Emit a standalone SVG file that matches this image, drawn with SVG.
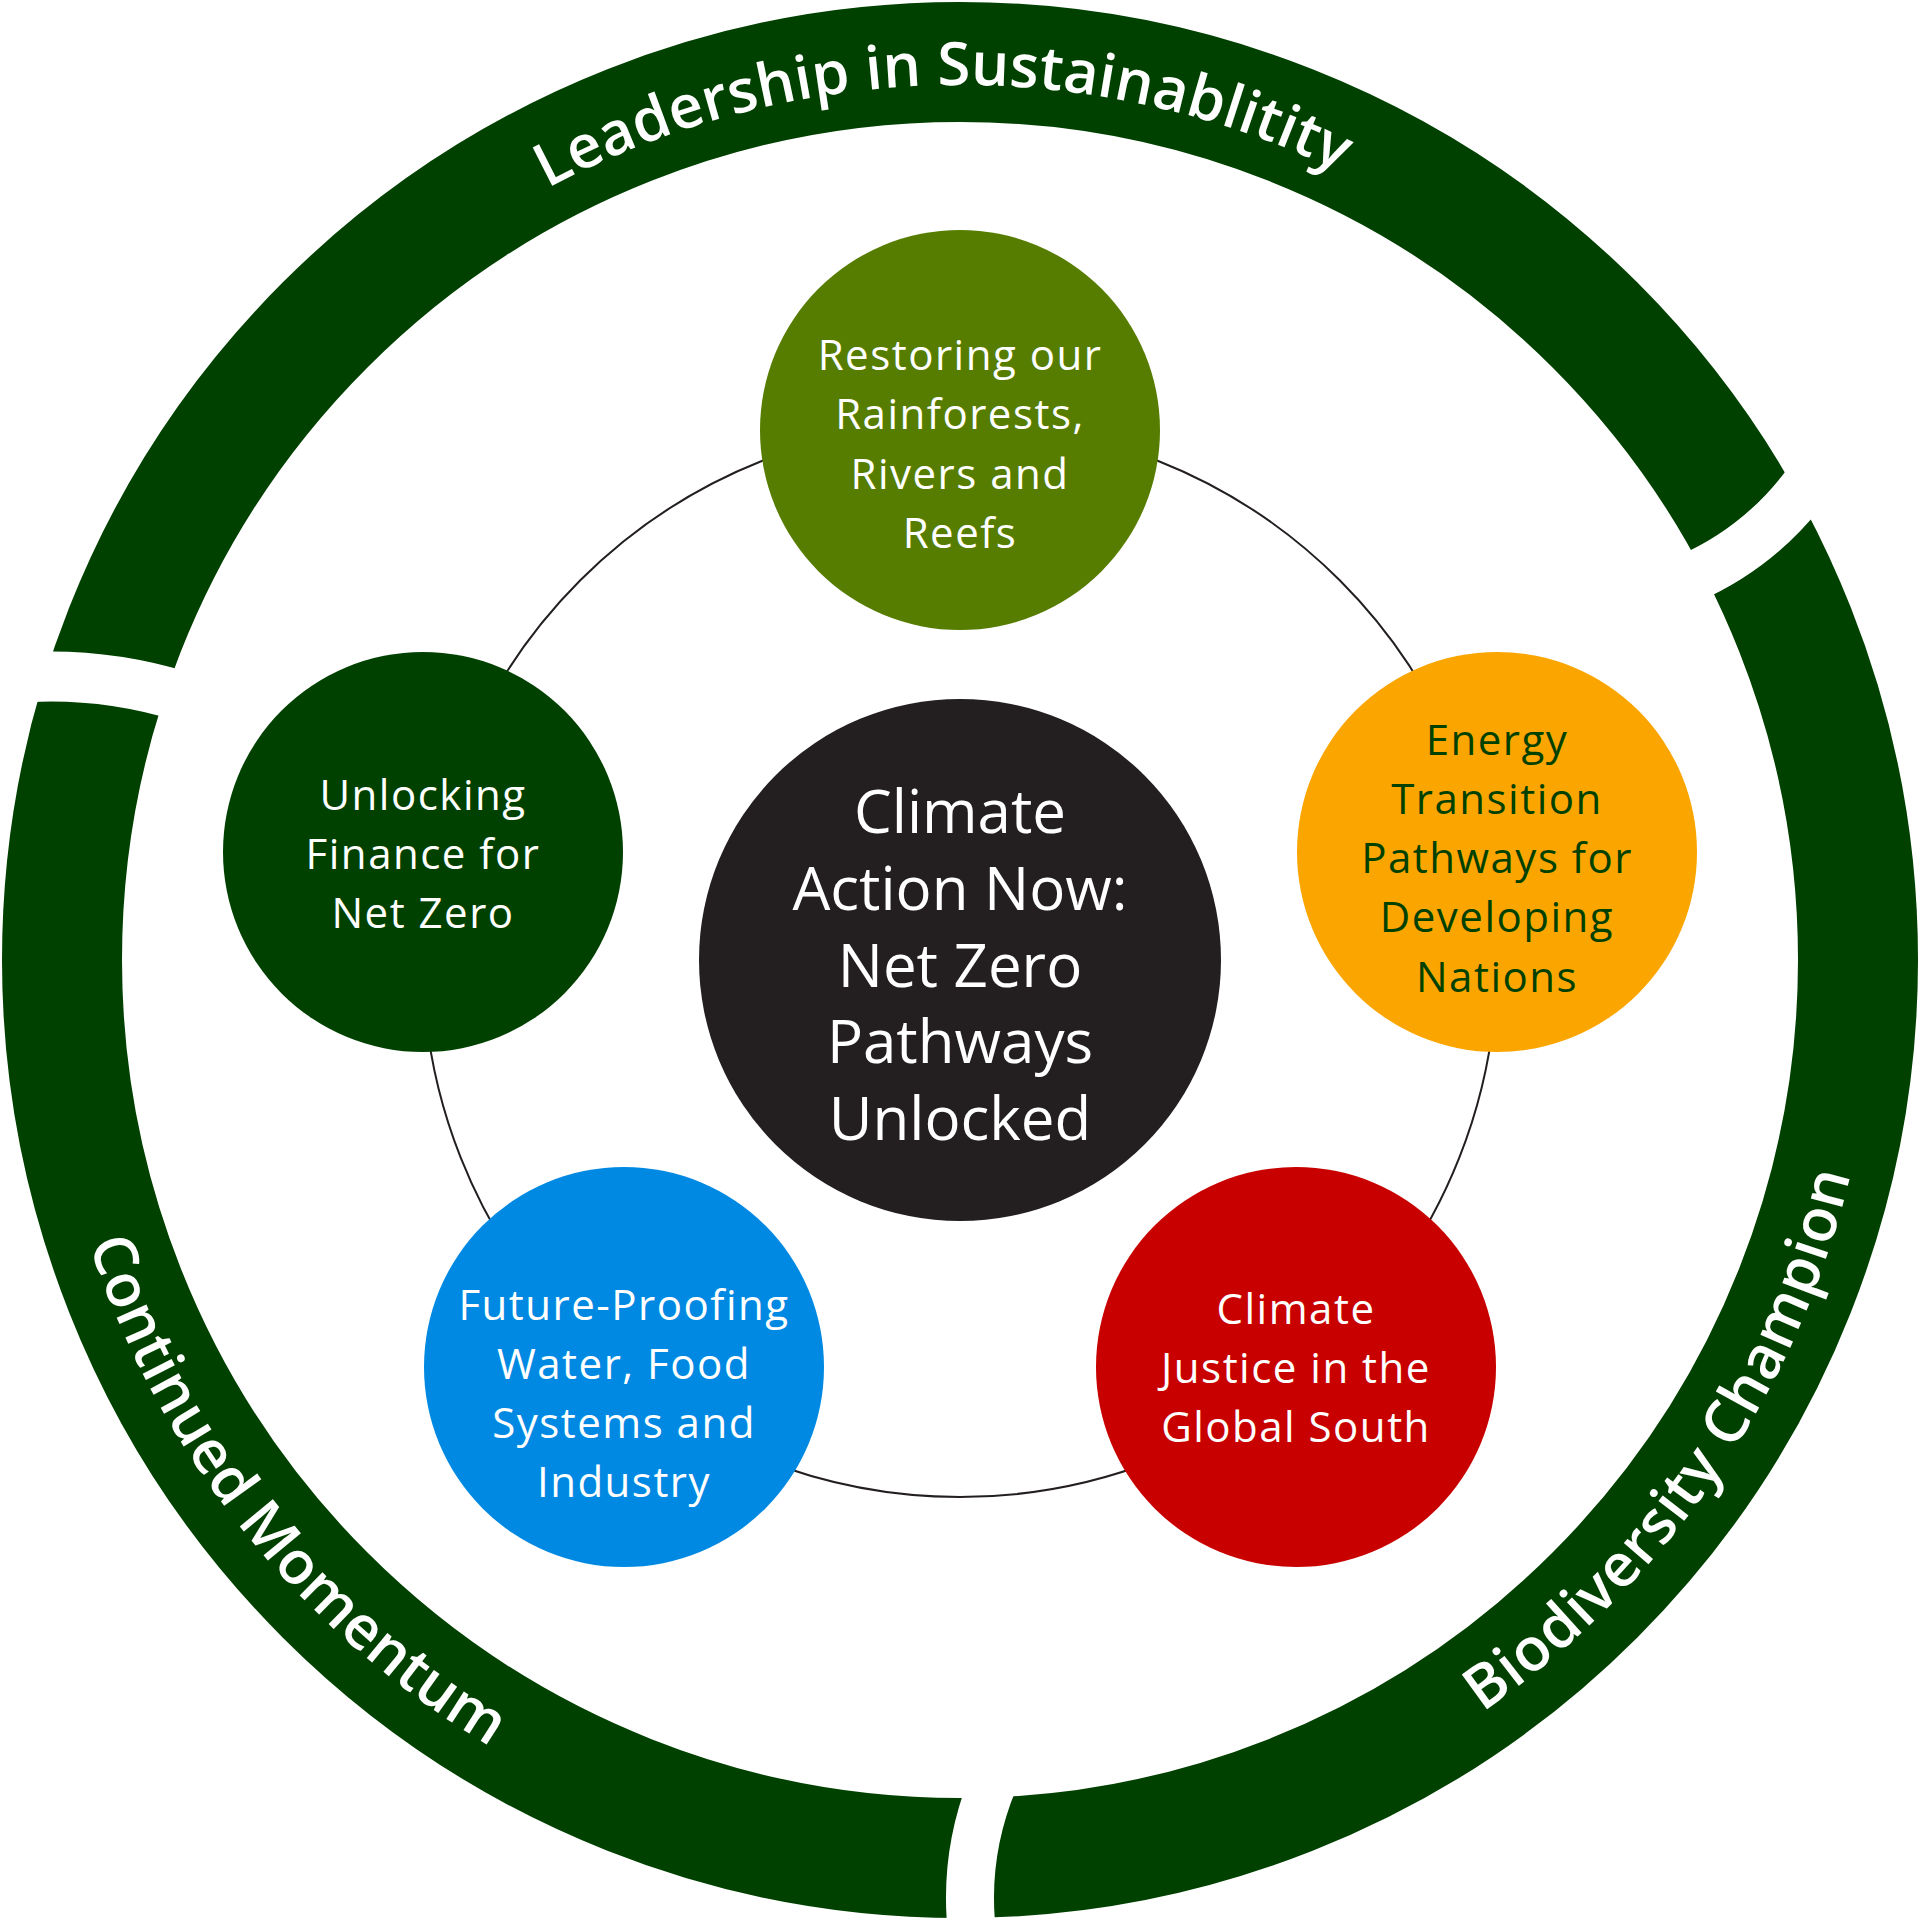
<svg xmlns="http://www.w3.org/2000/svg" xmlns:xlink="http://www.w3.org/1999/xlink" width="1920" height="1919" viewBox="0 0 1920 1919">
<style>
.ring{fill:none;stroke:#004100;stroke-width:120}
.gap{fill:none;stroke:#ffffff}
.ringtext{font-family:"Open Sans","Noto Sans",sans-serif;font-weight:600;font-size:60px;fill:#ffffff}
.nt{font-family:"Open Sans","Noto Sans",sans-serif;font-size:42px;letter-spacing:1.5px;text-anchor:middle;fill:#ffffff}
.ct{font-family:"Open Sans","Noto Sans",sans-serif;font-size:60px;text-anchor:middle;fill:#ffffff}
.dark{fill:#004100}
</style>
<defs>
<path id="topArc" d="M 85 960 A 875 875 0 0 1 1835 960"/>
<path id="botArc" d="M 44 960 A 916 916 0 0 0 1876 960"/>
</defs>
<rect x="0" y="0" width="1920" height="1919" fill="#ffffff"/>
<g id="outer-ring">
<circle class="ring" cx="960" cy="960" r="898"/>
<path class="gap" stroke-width="50" d="M 1808 483 Q 1761 547 1688 579"/>
<path class="gap" stroke-width="50" d="M 28 677 Q 106 673 181 696"/>
<path class="gap" stroke-width="48" d="M 994 1780 Q 963 1854 972 1933"/>
<text class="ringtext" text-anchor="middle"><textPath xlink:href="#topArc" href="#topArc" startOffset="1356">Leadership in Sustainablitity</textPath></text>
<text class="ringtext" text-anchor="middle"><textPath xlink:href="#botArc" href="#botArc" startOffset="617">Continued Momentum</textPath></text>
<text class="ringtext" text-anchor="middle" letter-spacing="0.6"><textPath xlink:href="#botArc" href="#botArc" startOffset="2328">Biodiversity Champion</textPath></text>
</g>
<g id="connectors">
<circle cx="960" cy="960" r="537" fill="none" stroke="#231f20" stroke-width="2"/>
</g>
<g id="node-center">
<circle cx="960" cy="960" r="261" fill="#231f20"/>
<text class="ct"><tspan x="960" y="833">Climate</tspan><tspan x="960" y="910">Action Now:</tspan><tspan x="960" y="987">Net Zero</tspan><tspan x="960" y="1063">Pathways</tspan><tspan x="960" y="1140">Unlocked</tspan></text>
</g>
<g id="node-rainforests">
<circle cx="960" cy="430" r="200" fill="#567d00"/>
<text class="nt"><tspan x="960" y="370">Restoring our</tspan><tspan x="960" y="429">Rainforests,</tspan><tspan x="960" y="489">Rivers and</tspan><tspan x="960" y="548">Reefs</tspan></text>
</g>
<g id="node-energy">
<circle cx="1497" cy="852" r="200" fill="#fba600"/>
<text class="nt dark"><tspan x="1497" y="755">Energy</tspan><tspan x="1497" y="814">Transition</tspan><tspan x="1497" y="873">Pathways for</tspan><tspan x="1497" y="932">Developing</tspan><tspan x="1497" y="992">Nations</tspan></text>
</g>
<g id="node-justice">
<circle cx="1296" cy="1367" r="200" fill="#c80000"/>
<text class="nt"><tspan x="1296" y="1324">Climate</tspan><tspan x="1296" y="1383">Justice in the</tspan><tspan x="1296" y="1442">Global South</tspan></text>
</g>
<g id="node-future">
<circle cx="624" cy="1367" r="200" fill="#0089e2"/>
<text class="nt"><tspan x="624" y="1320">Future-Proofing</tspan><tspan x="624" y="1379">Water, Food</tspan><tspan x="624" y="1438">Systems and</tspan><tspan x="624" y="1497">Industry</tspan></text>
</g>
<g id="node-finance">
<circle cx="423" cy="852" r="200" fill="#004100"/>
<text class="nt"><tspan x="423" y="810">Unlocking</tspan><tspan x="423" y="869">Finance for</tspan><tspan x="423" y="928">Net Zero</tspan></text>
</g>
</svg>
